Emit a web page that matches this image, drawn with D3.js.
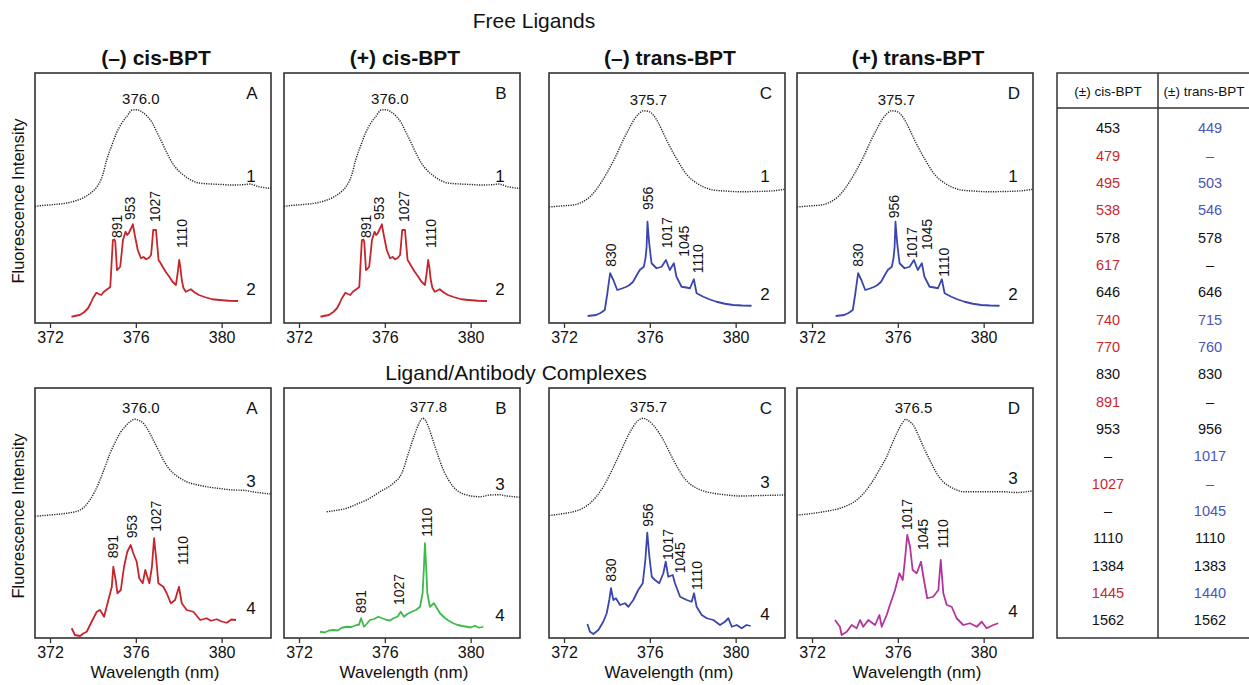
<!DOCTYPE html>
<html>
<head>
<meta charset="utf-8">
<script src="https://cdn.jsdelivr.net/npm/d3@7"></script>
<style>
  body { margin: 0; background: #fff; }
  text { font-family: "Liberation Sans", Arial, sans-serif; fill: #111; }
</style>
</head>
<body>
<script>
// wavelength axis (nm), intensity in arbitrary units 0..100 per panel
var nmDomain = [371.3, 382.3];
var nmTicks = [372, 376, 380];

// ---- free ligands ----
var cisFreeFluor = [[371.3,46.6],[371.44,46.8],[372.2,47.4],[372.79,48],[373.2,48.9],[373.53,50],[373.9,52],[374.18,54.4],[374.45,59],[374.64,65.2],[374.9,71.5],[375.1,76],[375.35,80],[375.56,82.4],[375.84,85.2],[376.05,85.3],[376.3,84.4],[376.55,82.5],[376.77,80],[377.0,76],[377.23,72],[377.45,68],[377.7,64],[378.0,60.8],[378.34,58.4],[378.6,57],[378.94,56],[379.5,55.6],[380.0,55.4],[380.47,55.2],[381.0,55.3],[381.3,55.6],[381.7,54.6],[382.3,53.8]];
var cisFreeSpec = [[373.0,2.5],[373.2,2.9],[373.39,3.2],[373.6,4.4],[373.77,5.9],[373.9,8],[374.0,9.9],[374.16,12.1],[374.28,11.6],[374.39,11.2],[374.5,12.4],[374.62,13.2],[374.75,14],[374.81,14.5],[374.87,24],[374.93,33.2],[375.0,33.4],[375.04,32.5],[375.08,27],[375.12,21.2],[375.2,21.8],[375.27,22.5],[375.34,28],[375.4,33.2],[375.52,36.5],[375.6,35.2],[375.67,35.9],[375.78,37.9],[375.86,39.5],[375.95,35.2],[376.09,29.2],[376.24,25.9],[376.36,26.4],[376.48,25.5],[376.6,26],[376.71,27.2],[376.76,32],[376.81,37.2],[376.94,37.2],[377.0,31],[377.06,25.2],[377.15,24],[377.25,22.5],[377.4,20.4],[377.56,18.5],[377.7,16.6],[377.87,15.2],[377.95,20],[378.02,25.2],[378.08,22],[378.14,17.2],[378.22,14],[378.33,12.5],[378.45,13],[378.56,13.5],[378.75,12.2],[378.94,11.2],[379.2,10.4],[379.56,9.5],[379.9,9.2],[380.33,8.9],[380.76,8.8]];
var cisFreeBands = [["891",375.12,34],["953",375.73,41.2],["1027",376.89,40.4],["1110",378.15,30]];

var transFreeFluor = [[371.3,46.4],[371.43,46.5],[372.0,46.9],[372.43,47.2],[372.9,48.6],[373.21,50.5],[373.6,54.5],[373.99,59.9],[374.4,66.5],[374.76,73.2],[375.05,78],[375.31,81.9],[375.5,83.8],[375.7,84.9],[375.95,84.6],[376.16,83.2],[376.4,80],[376.63,75.9],[376.85,72],[377.1,67.9],[377.35,64.2],[377.56,61.2],[377.85,58.2],[378.19,55.9],[378.55,54.3],[378.96,53.2],[379.5,52.8],[380.2,52.5],[381.0,52.6],[381.76,52.9],[382.3,53.5]];
var transFreeSpec = [[373.1,2.8],[373.3,3.0],[373.5,3.2],[373.7,4.0],[373.9,5.2],[374.02,11.9],[374.1,17],[374.15,19.9],[374.22,18.6],[374.3,17.2],[374.48,13.2],[374.7,13.8],[374.91,14.5],[375.05,15.2],[375.22,16.5],[375.38,19.0],[375.53,21.2],[375.72,22.5],[375.8,26],[375.85,30.5],[375.89,40.5],[375.93,36],[375.97,31.9],[376.08,23.9],[376.31,21.9],[376.55,22.5],[376.75,25.2],[376.93,21.2],[377.12,23.9],[377.24,18.5],[377.48,14.5],[377.7,14.2],[377.87,13.9],[378.05,17.5],[378.18,11.9],[378.49,10.5],[378.8,9.4],[379.11,8.5],[379.5,7.7],[379.88,7.2],[380.3,7.0],[380.74,6.9]];
var transMinusFreeBands = [["830",374.21,22.5],["956",375.92,45.2],["1017",376.82,29.9],["1045",377.6,26.5],["1110",378.24,19.9]];
var transPlusFreeBands = [["830",374.16,22.5],["956",375.82,41.9],["1017",376.64,25.9],["1045",377.34,29.2],["1110",378.15,18.5]];

// ---- ligand/antibody complexes ----
var cisMinusCxFluor = [[371.3,48.7],[371.45,48.8],[372.1,49.3],[372.78,49.9],[373.4,51.2],[373.86,55.2],[374.1,58.8],[374.33,63.2],[374.57,68.6],[374.8,73.9],[375.03,78.2],[375.26,81.9],[375.5,84.6],[375.73,86.5],[375.96,87.5],[376.15,87],[376.35,85.9],[376.58,83],[376.81,79.2],[377.05,75.2],[377.28,71.2],[377.5,68.2],[377.75,65.9],[378.05,64],[378.37,62.5],[378.8,61.4],[379.3,60.5],[379.9,59.8],[380.54,59.2],[381.0,59.1],[381.5,58.4],[382.3,57.6]];
var cisMinusCxSpec = [[373.01,3.9],[373.16,1.2],[373.4,0.8],[373.55,1.8],[373.71,2.5],[373.94,6.5],[374.18,10.5],[374.33,11.2],[374.52,8.5],[374.72,15.2],[374.88,20.5],[374.95,28.5],[375.06,23.2],[375.14,17.9],[375.3,19.2],[375.45,28.5],[375.6,34.5],[375.76,37.2],[375.88,33.9],[376.04,30.5],[376.16,23.9],[376.32,21.9],[376.44,27.2],[376.63,21.9],[376.75,28.5],[376.85,39.9],[376.94,32.5],[377.05,21.9],[377.28,20.5],[377.44,17.9],[377.63,13.9],[377.83,15.2],[378.01,20.5],[378.14,13.9],[378.37,11.2],[378.68,10.5],[379.0,7.2],[379.3,7.9],[379.5,6.9],[379.77,7.5],[380.0,6.6],[380.24,6.1],[380.45,7.4],[380.67,7.2]];
var cisMinusCxBands = [["891",374.95,31.9],["953",375.81,39.9],["1027",376.94,42.5],["1110",378.18,29.2]];

var cisPlusCxFluor = [[373.29,50.5],[373.7,51],[374.22,51.9],[374.7,53.6],[375.15,55.2],[375.77,58.5],[376.4,61.9],[376.79,65.9],[377.1,73.9],[377.41,81.9],[377.6,86],[377.76,87.9],[377.9,87],[378.03,84.5],[378.34,76.5],[378.73,67.2],[379.19,60.5],[379.82,57.2],[380.44,56.5],[380.9,57.2],[381.3,57.3],[381.68,56.8],[382.3,56.3]];
var cisPlusCxSpec = [[372.98,2.5],[373.2,2.2],[373.4,3.0],[373.6,3.2],[373.8,3.0],[374.0,4.1],[374.22,4.5],[374.45,4.4],[374.69,5.2],[374.8,5.4],[374.89,7.9],[375.03,4.5],[375.15,5.6],[375.31,7.2],[375.5,7.6],[375.7,8.5],[375.9,7.8],[376.09,7.2],[376.25,7.0],[376.4,7.9],[376.6,8.6],[376.74,10.5],[376.89,8.5],[377.05,9.6],[377.25,10.5],[377.45,11.2],[377.64,12.5],[377.76,17.9],[377.82,28],[377.87,37.9],[377.93,28],[377.98,17.9],[378.1,12.5],[378.29,13.9],[378.45,11.6],[378.57,9.9],[378.8,8.0],[379.0,6.8],[379.19,5.9],[379.4,5.2],[379.6,4.8],[379.82,4.5],[380.0,4.2],[380.2,4.9],[380.4,4.1],[380.59,4.5]];
var cisPlusCxBands = [["891",374.89,9.9],["1027",376.67,13.2],["1110",377.95,40.5]];

var transMinusCxFluor = [[371.3,49.0],[371.5,49.2],[372.0,49.8],[372.43,50.5],[372.85,51.8],[373.21,53.9],[373.83,60.5],[374.15,65.6],[374.46,71.2],[374.75,76.6],[375.0,81.2],[375.2,84.2],[375.39,86.5],[375.7,87.9],[375.95,86.8],[376.16,85.2],[376.4,82.4],[376.63,79.2],[376.86,75.3],[377.1,71.2],[377.33,67.6],[377.56,64.5],[377.85,61.8],[378.19,59.9],[378.55,58.7],[378.96,57.9],[379.6,57.2],[380.2,56.8],[381.2,57.0],[382.3,57.2]];
var transMinusCxSpec = [[373.09,5.6],[373.21,2.5],[373.37,1.6],[373.6,3.2],[373.83,6.5],[373.99,9.9],[374.11,15.2],[374.19,19.9],[374.3,15.2],[374.42,15.9],[374.61,13.2],[374.84,13.9],[375.0,12.5],[375.23,15.2],[375.46,19.2],[375.67,21.9],[375.79,31.2],[375.88,42.1],[375.98,32.5],[376.09,24.5],[376.24,23.2],[376.44,21.9],[376.63,25.9],[376.74,30.5],[376.86,24.5],[377.07,25.2],[377.17,21.9],[377.41,16.5],[377.72,15.2],[377.95,14.5],[378.06,17.9],[378.18,12.5],[378.42,9.2],[378.65,7.9],[378.96,7.2],[379.27,5.2],[379.5,6.5],[379.66,7.9],[379.82,4.5],[380.05,5.2],[380.28,3.9],[380.51,5.2],[380.7,4.8]];
var transMinusCxBands = [["830",374.19,22.5],["956",375.93,44.5],["1017",376.86,31.2],["1045",377.41,25.9],["1110",378.18,19.2]];

var transPlusCxFluor = [[371.3,49.2],[371.8,49.6],[372.53,50.5],[373.3,51.9],[374.08,55.2],[374.5,58.8],[374.86,63.2],[375.2,68.2],[375.48,72.5],[375.72,77.4],[375.95,81.9],[376.15,85.2],[376.38,87.5],[376.55,86.6],[376.72,85.2],[376.95,81.2],[377.19,76.5],[377.5,71],[377.81,65.9],[378.1,62.6],[378.43,60.5],[378.75,59.2],[379.05,58.5],[380.0,58.5],[380.92,58.5],[381.5,58.2],[382.24,58.8]];
var transPlusCxSpec = [[373.07,7.2],[373.3,4.5],[373.38,1.2],[373.62,2.5],[373.85,5.2],[374.08,3.9],[374.24,7.2],[374.39,4.5],[374.62,7.2],[374.94,5.2],[375.14,9.2],[375.25,4.5],[375.48,9.2],[375.63,13.2],[375.87,19.2],[376.07,25.9],[376.23,23.2],[376.33,31.2],[376.44,41.2],[376.57,36.5],[376.69,27.2],[376.88,25.9],[377.08,30.5],[377.19,24.5],[377.37,15.9],[377.65,16.5],[377.89,19.2],[378.0,31.2],[378.12,17.9],[378.28,13.2],[378.51,12.5],[378.74,7.9],[379.05,5.2],[379.36,5.9],[379.68,4.5],[379.91,6.5],[380.14,3.9],[380.45,5.2],[380.68,5.9]];
var transPlusCxBands = [["1017",376.44,43.2],["1045",377.16,35.2],["1110",378.12,35.9]];

// ---- band assignment table ----
var tableHeader = ["(\u00b1) cis-BPT", "(\u00b1) trans-BPT"];
var cisBands = ["453","479","495","538","578","617","646","740","770","830","891","953","\u2013","1027","\u2013","1110","1384","1445","1562"];
var cisIsomerOnly = [0,1,1,1,0,1,0,1,1,0,1,0,0,1,0,0,0,1,0];
var transBands = ["449","\u2013","503","546","578","\u2013","646","715","760","830","\u2013","956","1017","\u2013","1045","1110","1383","1440","1562"];
var transIsomerOnly = [1,1,1,1,0,0,0,1,1,0,0,0,1,1,1,0,0,1,0];

var RED = "#c5262b", BLUE = "#3a46ad", GREEN = "#3dba4b", MAGENTA = "#b4349e";
var RED_T = "#c9282b", BLUE_T = "#4a55b8";

var panels = [
  {row:0, col:0, title:"(\u2013) cis-BPT",   tag:"A", fl:cisFreeFluor,     sp:cisFreeSpec,     c:RED,     bands:cisFreeBands,        peak:"376.0", nums:["1","2"]},
  {row:0, col:1, title:"(+) cis-BPT",        tag:"B", fl:cisFreeFluor,     sp:cisFreeSpec,     c:RED,     bands:cisFreeBands,        peak:"376.0", nums:["1","2"]},
  {row:0, col:2, title:"(\u2013) trans-BPT", tag:"C", fl:transFreeFluor,   sp:transFreeSpec,   c:BLUE,    bands:transMinusFreeBands, peak:"375.7", nums:["1","2"]},
  {row:0, col:3, title:"(+) trans-BPT",      tag:"D", fl:transFreeFluor,   sp:transFreeSpec,   c:BLUE,    bands:transPlusFreeBands,  peak:"375.7", nums:["1","2"]},
  {row:1, col:0, tag:"A", fl:cisMinusCxFluor,   sp:cisMinusCxSpec,   c:RED,     bands:cisMinusCxBands,   peak:"376.0", nums:["3","4"]},
  {row:1, col:1, tag:"B", fl:cisPlusCxFluor,    sp:cisPlusCxSpec,    c:GREEN,   bands:cisPlusCxBands,    peak:"377.8", nums:["3","4"]},
  {row:1, col:2, tag:"C", fl:transMinusCxFluor, sp:transMinusCxSpec, c:BLUE,    bands:transMinusCxBands, peak:"375.7", nums:["3","4"]},
  {row:1, col:3, tag:"D", fl:transPlusCxFluor,  sp:transPlusCxSpec,  c:MAGENTA, bands:transPlusCxBands,  peak:"376.5", nums:["3","4"]}
];

var W = 1249, H = 685;
var colLeft = [35, 284, 549, 797], rowTop = [73, 388];
var PW = 236, PH = 250;

var svg = d3.select("body").append("svg").attr("width", W).attr("height", H);

var x = d3.scaleLinear().domain(nmDomain).range([0, PW]);
var y = d3.scaleLinear().domain([0, 100]).range([PH, 0]);

var smooth = d3.line().x(function(d) { return x(d[0]); }).y(function(d) { return y(d[1]); }).curve(d3.curveMonotoneX);
var jagged = d3.line().x(function(d) { return x(d[0]); }).y(function(d) { return y(d[1]); });

svg.append("text").attr("x", 534).attr("y", 28).attr("text-anchor", "middle")
   .style("font-size", "21px").text("Free Ligands");
svg.append("text").attr("x", 516).attr("y", 380).attr("text-anchor", "middle")
   .style("font-size", "21px").text("Ligand/Antibody Complexes");

rowTop.forEach(function(t) {
  svg.append("text")
     .attr("transform", "translate(24," + (t + PH / 2 + 3) + ") rotate(-90)")
     .attr("text-anchor", "middle").style("font-size", "16.5px")
     .text("Fluorescence Intensity");
});

panels.forEach(function(p) {
  var g = svg.append("g").attr("transform", "translate(" + colLeft[p.col] + "," + rowTop[p.row] + ")");

  if (p.title)
    g.append("text").attr("x", PW / 2 + 3).attr("y", -8).attr("text-anchor", "middle")
     .style("font-size", "21px").style("font-weight", "bold").text(p.title);

  g.append("path").datum(p.fl).attr("d", smooth)
   .attr("fill", "none").attr("stroke", "#222").attr("stroke-width", 1.4)
   .attr("stroke-dasharray", "1.2,1.2");

  g.append("path").datum(p.sp).attr("d", jagged)
   .attr("fill", "none").attr("stroke", p.c).attr("stroke-width", 1.8)
   .attr("stroke-linejoin", "round");

  // band labels, rotated
  g.selectAll(".band").data(p.bands).enter().append("text")
   .attr("class", "band")
   .attr("transform", function(d) { return "translate(" + x(d[1]) + "," + y(d[2]) + ") rotate(-90)"; })
   .attr("dy", "0.36em").style("font-size", "14px").text(function(d) { return d[0]; });

  // fluorescence maximum
  var top = d3.max(p.fl, function(d) { return d[1]; });
  g.append("text").attr("x", x(+p.peak) + 5).attr("y", y(top) - 6)
   .attr("text-anchor", "middle").style("font-size", "15px").text(p.peak);

  g.append("text").attr("x", 217).attr("y", 26).attr("text-anchor", "middle")
   .style("font-size", "17px").text(p.tag);

  g.append("text").attr("x", 216).attr("y", y(p.fl[p.fl.length - 1][1]) - 7)
   .attr("text-anchor", "middle").style("font-size", "17px").text(p.nums[0]);
  g.append("text").attr("x", 216).attr("y", y(p.sp[p.sp.length - 1][1]) - 6)
   .attr("text-anchor", "middle").style("font-size", "17px").text(p.nums[1]);

  g.append("rect").attr("width", PW).attr("height", PH)
   .attr("fill", "none").attr("stroke", "#333").attr("stroke-width", 1.6);

  var ax = g.append("g").attr("transform", "translate(0," + PH + ")")
    .call(d3.axisBottom(x).tickValues(nmTicks).tickSize(5).tickPadding(4).tickFormat(d3.format("d")));
  ax.select(".domain").remove();
  ax.selectAll("line").attr("stroke", "#333").attr("stroke-width", 1.3);
  ax.selectAll("text").style("font-size", "16px").style("font-family", "'Liberation Sans', Arial, sans-serif").attr("fill", "#111");

  if (p.row === 1)
    g.append("text").attr("x", PW / 2 + 2).attr("y", PH + 40).attr("text-anchor", "middle")
     .style("font-size", "17px").text("Wavelength (nm)");
});

// table
var tb = svg.append("g");
var tL = 1057, tT = 73, tHead = 108, tB = 638, tMid = 1158, tR = 1262;
tb.append("rect").attr("x", tL).attr("y", tT).attr("width", tR - tL).attr("height", tB - tT)
  .attr("fill", "none").attr("stroke", "#333").attr("stroke-width", 1.5);
tb.append("line").attr("x1", tL).attr("x2", tR).attr("y1", tHead).attr("y2", tHead)
  .attr("stroke", "#333").attr("stroke-width", 1.5);
tb.append("line").attr("x1", tMid).attr("x2", tMid).attr("y1", tT).attr("y2", tB)
  .attr("stroke", "#333").attr("stroke-width", 1.5);

var colX = [1108, 1210];
var headX = [1108, 1204];
tableHeader.forEach(function(h, i) {
  tb.append("text").attr("x", headX[i]).attr("y", 96).attr("text-anchor", "middle")
    .style("font-size", "13.5px").text(h);
});

var rowY = d3.scalePoint().domain(d3.range(cisBands.length)).range([128, 620]);
[[cisBands, cisIsomerOnly, RED_T], [transBands, transIsomerOnly, BLUE_T]].forEach(function(col, ci) {
  tb.selectAll(".c" + ci).data(col[0]).enter().append("text")
    .attr("x", colX[ci]).attr("y", function(d, i) { return rowY(i); })
    .attr("dy", "0.36em").attr("text-anchor", "middle").style("font-size", "14.5px")
    .style("fill", function(d, i) { return col[1][i] ? col[2] : "#111"; })
    .text(function(d) { return d; });
});
</script>
</body>
</html>
